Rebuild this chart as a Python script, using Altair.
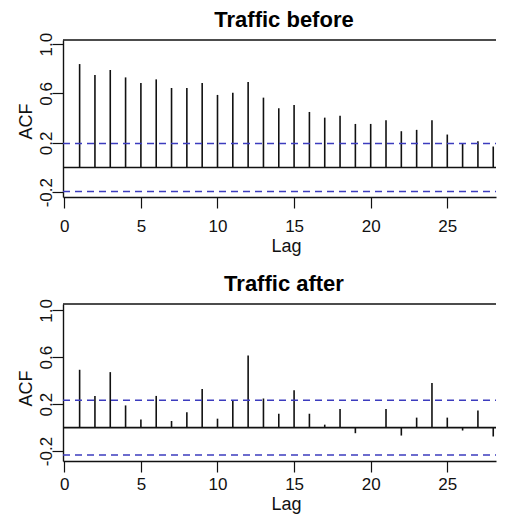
import altair as alt
import pandas as pd

# ---- data ----
lags = list(range(1, 29))
acf_before = [0.838, 0.749, 0.790, 0.730, 0.685, 0.714, 0.644, 0.644, 0.685, 0.588,
              0.606, 0.693, 0.566, 0.480, 0.507, 0.450, 0.404, 0.420, 0.353, 0.353,
              0.383, 0.294, 0.305, 0.383, 0.267, 0.191, 0.213, 0.170]
acf_after = [0.493, 0.270, 0.473, 0.189, 0.068, 0.270, 0.056, 0.130, 0.330, 0.076,
             0.231, 0.614, 0.248, 0.118, 0.318, 0.118, 0.025, 0.158, -0.048, 0.004,
             0.158, -0.068, 0.085, 0.380, 0.085, -0.025, 0.146, -0.076]
ci_before = 0.195
ci_after = 0.234
titles = ["Traffic before", "Traffic after"]
x_ticks = [0, 5, 10, 15, 20, 25]
y_ticks = [-0.2, 0.0, 0.2, 0.4, 0.6, 0.8, 1.0]
y_labels = ["-0.2", "", "0.2", "", "0.6", "", "1.0"]
x_domain = [-0.085, 28.18]
y_domain_before = [-0.239, 1.033]
y_domain_after = [-0.285, 1.054]

W, H = 433, 157
FONT = "Liberation Sans"
BLUE = "#3c3cbe"
INK = "#111111"

expr = "''"
for v, lab in zip(y_ticks, y_labels):
    if lab:
        expr = f"abs(datum.value - ({v})) < 0.001 ? '{lab}' : ({expr})"


def panel(vals, ci, title, ydom, lab_pad, title_y, acf_title_y):
    df = pd.DataFrame({"lag": lags, "acf": vals})
    x = alt.X("lag:Q", scale=alt.Scale(domain=x_domain, nice=False, zero=False),
              axis=alt.Axis(values=x_ticks, title="Lag", grid=False, labelFlush=False,
                            labelOverlap=False, tickSize=11, tickColor=INK, tickWidth=1.2,
                            domainColor=INK, domainWidth=1.4, labelFont=FONT,
                            labelFontSize=17, labelColor=INK, labelBaseline="alphabetic",
                            labelPadding=lab_pad, titleFont=FONT, titleFontSize=18,
                            titleFontWeight="normal", titleColor=INK,
                            titleBaseline="alphabetic", titleY=title_y, titleX=223))
    y = alt.Y("acf:Q", scale=alt.Scale(domain=ydom, nice=False, zero=False),
              axis=alt.Axis(values=y_ticks, labelExpr=expr, title="ACF", grid=False,
                            labelOverlap=False, tickSize=11, tickColor=INK, tickWidth=1.2,
                            domainColor=INK, domainWidth=1.4, labelFont=FONT,
                            labelFontSize=17, labelColor=INK, labelAngle=270,
                            labelAlign="center", labelBaseline="alphabetic",
                            labelPadding=1, titleFont=FONT, titleFontSize=18,
                            titleFontWeight="normal", titleColor=INK, titleAngle=270,
                            titleAlign="center", titleBaseline="alphabetic",
                            titleX=-32, titleY=acf_title_y))
    spikes = alt.Chart(df).mark_rule(color=INK, strokeWidth=1.6).encode(
        x=x, y=y, y2=alt.datum(0))
    zero = alt.Chart(pd.DataFrame({"acf": [0.0]})).mark_rule(
        color=INK, strokeWidth=1.6).encode(y="acf:Q", x=alt.value(0), x2=alt.value(W))
    ci_lines = alt.Chart(pd.DataFrame({"acf": [ci, -ci]})).mark_rule(
        color=BLUE, strokeWidth=1.5, strokeDash=[7, 5]).encode(
        y="acf:Q", x=alt.value(0), x2=alt.value(W))
    top = alt.Chart(pd.DataFrame({"acf": [0.0]})).mark_rule(
        color=INK, strokeWidth=1.4).encode(x=alt.value(0), x2=alt.value(W), y=alt.value(0))
    ttl = alt.Chart(pd.DataFrame({"t": [title]})).mark_text(
        font=FONT, fontSize=22, fontWeight="bold", color="black",
        align="center", baseline="alphabetic").encode(
        text="t:N", x=alt.value(221), y=alt.value(-13))
    return alt.layer(spikes, zero, ci_lines, top, ttl).properties(width=W, height=H)


p1 = panel(acf_before, ci_before, titles[0], y_domain_before, 23.2, 54, 81)
p2 = panel(acf_after, ci_after, titles[1], y_domain_after, 17.8, 48.5, 84)

chart = alt.vconcat(p1, p2, spacing=18).properties(
    padding={"left": 9, "top": 1, "right": 0, "bottom": 0}
).configure_view(stroke=None)

chart.save("out.html", embed_options={"renderer": "svg", "actions": False})
